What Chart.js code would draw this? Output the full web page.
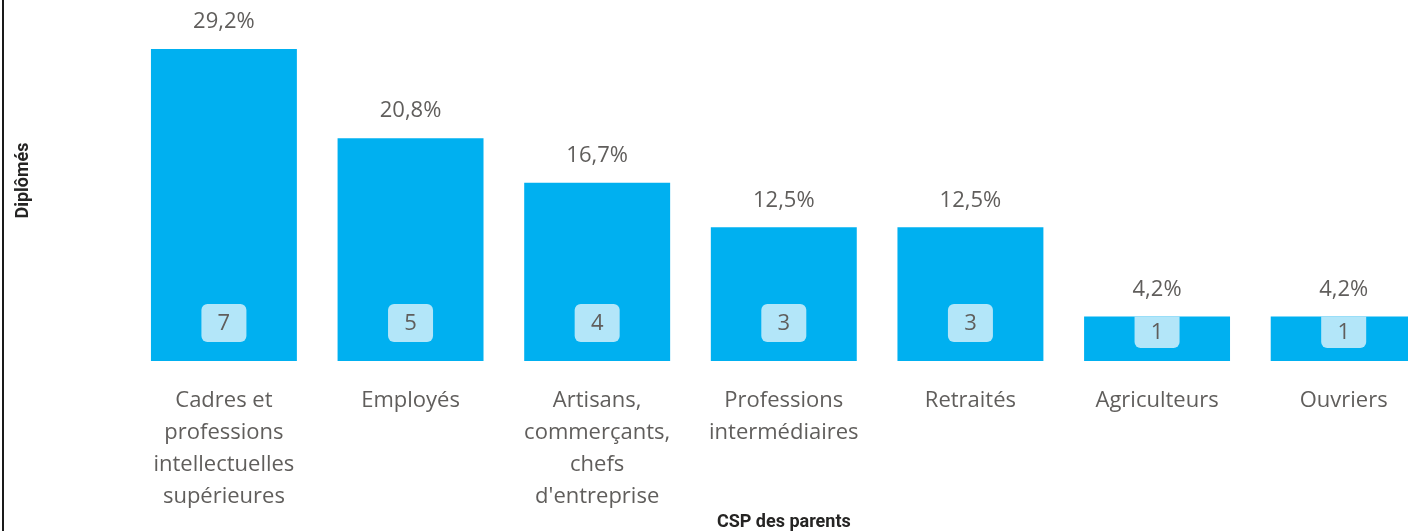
<!DOCTYPE html>
<html><head><meta charset="utf-8">
<script src="https://cdn.jsdelivr.net/npm/chart.js@4/dist/chart.umd.min.js"></script>
<style>
html,body{margin:0;padding:0;background:#fff;overflow:hidden;width:1408px;height:531px;}
#wrap{position:absolute;left:0;top:0;width:1440px;height:531px;}
#edge{position:absolute;left:2px;top:0;width:2px;height:531px;background:#1a1a1a;}
</style></head>
<body>
<div id="wrap"><canvas id="c" width="1440" height="531"></canvas></div>
<div id="edge"></div>
<script>
const categories = [
  ["Cadres et","professions","intellectuelles","supérieures"],
  ["Employés"],
  ["Artisans,","commerçants,","chefs","d'entreprise"],
  ["Professions","intermédiaires"],
  ["Retraités"],
  ["Agriculteurs"],
  ["Ouvriers"]
];
const counts = [7, 5, 4, 3, 3, 1, 1];
const total = counts.reduce((a,b)=>a+b,0);
const percentLabels = counts.map(v => (v/total*100).toFixed(1).replace('.', ',') + '%');

const labelFont = '"Open Sans", "Noto Sans", sans-serif';
const grey = '#605E5C';

const labelPlugin = {
  id: 'barLabels',
  afterDatasetsDraw(chart) {
    const ctx = chart.ctx;
    const meta = chart.getDatasetMeta(0);
    ctx.save();
    meta.data.forEach((bar, i) => {
      const x = bar.x, top = bar.y, base = bar.base;
      ctx.fillStyle = grey;
      ctx.font = '22px ' + labelFont;
      ctx.textAlign = 'center';
      ctx.textBaseline = 'middle';
      ctx.fillText(percentLabels[i], x, top - 27);
      const bw = 45;
      const bTop = Math.max(top, base - 57);
      const bBot = Math.min(bTop + 38, base - 13);
      const clipped = bTop === top;
      const r = 6;
      ctx.fillStyle = '#B3E6F9';
      ctx.beginPath();
      ctx.roundRect(x - bw/2, bTop, bw, bBot - bTop, clipped ? [0,0,r,r] : r);
      ctx.fill();
      ctx.fillStyle = grey;
      ctx.fillText(String(counts[i]), x, (bTop + bBot)/2 + 1);
    });
    ctx.restore();
  }
};

new Chart(document.getElementById('c'), {
  type: 'bar',
  data: {
    labels: categories,
    datasets: [{
      data: counts,
      backgroundColor: '#00B0F0',
      barPercentage: 0.782,
      categoryPercentage: 1
    }]
  },
  options: {
    responsive: false,
    animation: false,
    events: [],
    layout: { padding: { left: 0, right: 3, top: 0, bottom: 0 } },
    plugins: { legend: { display: false }, tooltip: { enabled: false } },
    scales: {
      x: {
        grid: { display: false, drawTicks: false },
        border: { display: false },
        ticks: { color: grey, font: { family: labelFont, size: 22, lineHeight: 1.4545 }, padding: 24, maxRotation: 0, autoSkip: false },
        title: { display: true, text: 'CSP des parents', color: '#252423', font: { family: 'Roboto, sans-serif', size: 18, weight: 'bold', lineHeight: 1.0 }, padding: { top: -24, bottom: 0 } }
      },
      y: {
        min: 0, max: 8.1,
        grid: { display: false, drawTicks: false },
        border: { display: false },
        ticks: { display: false },
        title: { display: true, text: 'Diplômés', color: '#252423', font: { family: 'Roboto, sans-serif', size: 18, weight: 'bold', lineHeight: 1.2 }, padding: { top: 13, bottom: 96 } }
      }
    }
  },
  plugins: [labelPlugin]
});
</script>
</body></html>
